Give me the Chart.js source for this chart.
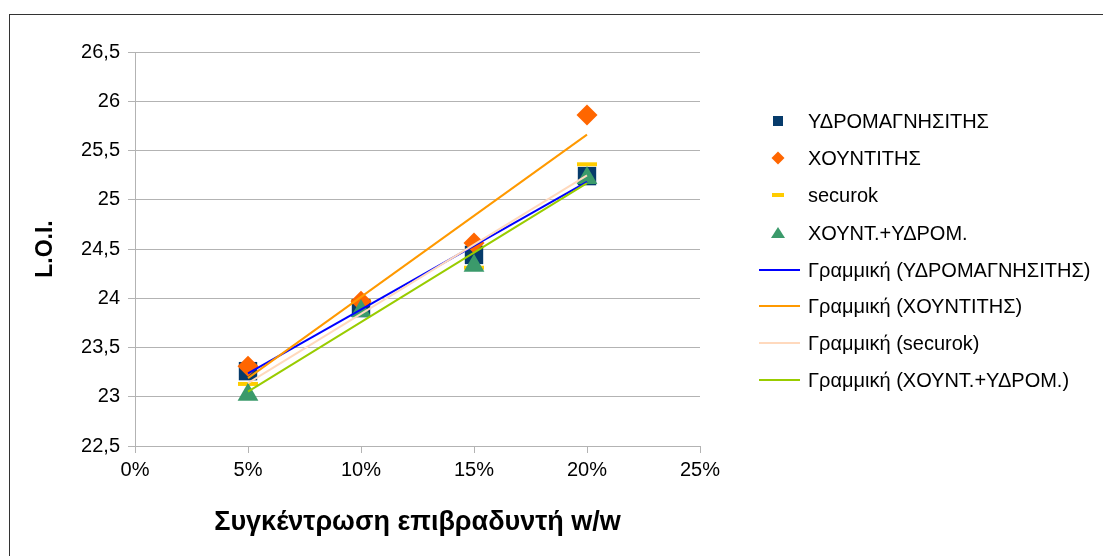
<!DOCTYPE html>
<html>
<head>
<meta charset="utf-8">
<script src="https://cdn.jsdelivr.net/npm/chart.js@4.4.1/dist/chart.umd.min.js"></script>
<style>
html,body{margin:0;padding:0;background:#fff;}
#wrap{position:relative;width:1103px;height:556px;overflow:hidden;background:#fff;}
#frame{position:absolute;left:9px;top:14px;width:1200px;height:700px;border-left:1px solid #333;border-top:1px solid #333;}
#c{position:absolute;left:0;top:0;}
.lg{position:absolute;left:0;top:0;width:1103px;height:556px;font-family:'Liberation Sans',Arial,sans-serif;font-size:20px;color:#000;pointer-events:none;}
.it{position:absolute;left:758px;height:30px;line-height:30px;white-space:nowrap;}
.mk{position:absolute;left:0;top:0;width:42px;height:30px;}
.tx{position:absolute;left:50px;top:0;}
</style>
</head>
<body>
<div id="wrap">
  <div id="frame"></div>
  <canvas id="c" width="1103" height="556"></canvas>
  <div class="lg" id="legend"></div>
</div>
<script>
// ---- data ----
const concentrations = [0.05, 0.10, 0.15, 0.20];
const seriesNames = ['ΥΔΡΟΜΑΓΝΗΣΙΤΗΣ', 'ΧΟΥΝΤΙΤΗΣ', 'securok', 'ΧΟΥΝΤ.+ΥΔΡΟΜ.'];
const hydromagnesite = [23.26, 23.90, 24.44, 25.24];
const huntite = [23.31, 23.97, 24.56, 25.86];
const securok = [23.13, 23.97, 24.31, 25.36];
const huntHydro = [23.02, 23.87, 24.33, 25.22];
const xTickLabels = ['0%', '5%', '10%', '15%', '20%', '25%'];
const yTickLabels = ['22,5', '23', '23,5', '24', '24,5', '25', '25,5', '26', '26,5'];
const xTitle = 'Συγκέντρωση επιβραδυντή w/w';
const yTitle = 'L.O.I.';
const trendPrefix = 'Γραμμική';

// ---- styling ----
const markerColors = ['#063b6b', '#ff6600', '#ffcc00', '#3b9a6b'];
const trendColors = ['#0000ff', '#ff9900', '#ffd9bd', '#99cc00'];
const FONT = "'Liberation Sans', Arial, sans-serif";

function pts(vals){ return concentrations.map((x,i)=>({x:x, y:vals[i]})); }
function trend(vals){
  const n = concentrations.length;
  const mx = concentrations.reduce((a,b)=>a+b,0)/n;
  const my = vals.reduce((a,b)=>a+b,0)/n;
  let sxy=0, sxx=0;
  for(let i=0;i<n;i++){ sxy+=(concentrations[i]-mx)*(vals[i]-my); sxx+=(concentrations[i]-mx)**2; }
  const b = sxy/sxx, a = my - b*mx;
  const x0 = concentrations[0], x1 = concentrations[n-1];
  return [{x:x0,y:a+b*x0},{x:x1,y:a+b*x1}];
}
const allSeries = [hydromagnesite, huntite, securok, huntHydro];

const datasets = [
  {label: seriesNames[0], data: pts(hydromagnesite), pointStyle:'rect', pointRadius:13, pointHoverRadius:13,
   backgroundColor: markerColors[0], borderWidth:0, showLine:false, order:7},
  {label: seriesNames[1], data: pts(huntite), pointStyle:'rectRot', pointRadius:10.5, pointHoverRadius:10.5,
   backgroundColor: markerColors[1], borderWidth:0, showLine:false, order:6},
  {label: seriesNames[2], data: pts(securok), pointStyle:'line', pointRadius:10, pointHoverRadius:10,
   borderColor: markerColors[2], backgroundColor: markerColors[2], borderWidth:4, pointBorderWidth:4, showLine:false, order:8},
  {label: seriesNames[3], data: pts(huntHydro), pointStyle:'triangle', pointRadius:12, pointHoverRadius:12,
   backgroundColor: markerColors[3], borderWidth:0, showLine:false, order:5},
];
allSeries.forEach((s,i)=>{
  datasets.push({label: trendPrefix+' ('+seriesNames[i]+')', data: trend(s), showLine:true, pointRadius:0,
    borderColor: trendColors[i], backgroundColor: trendColors[i], borderWidth:2, order: 4-i});
});

new Chart(document.getElementById('c'), {
  type:'scatter',
  data:{datasets},
  options:{
    responsive:false, animation:false, devicePixelRatio:1,
    layout:{padding:{left:0, top:52, right:403, bottom:10}},
    plugins:{legend:{display:false}, tooltip:{enabled:false}},
    scales:{
      x:{type:'linear', min:0, max:0.25,
        afterFit:(s)=>{ s.height = 100; },
        ticks:{stepSize:0.05, color:'#000', font:{family:FONT, size:20}, padding:5, maxRotation:0,
          callback:(v,i)=>xTickLabels[i]},
        grid:{drawOnChartArea:false, color:'#b3b3b3', tickLength:7},
        border:{color:'#b3b3b3'},
        title:{display:true, text:xTitle, color:'#000', font:{family:FONT, size:27, weight:'bold'}, padding:{top:0,bottom:7}}
      },
      y:{min:22.5, max:26.5,
        afterFit:(s)=>{ s.width = 135; },
        ticks:{stepSize:0.5, color:'#000', font:{family:FONT, size:20}, padding:8,
          callback:(v,i)=>yTickLabels[i]},
        grid:{color:'#b3b3b3', tickLength:7},
        border:{color:'#b3b3b3'},
        title:{display:true, text:yTitle, color:'#000', font:{family:FONT, size:23, weight:'bold'}, padding:{top:32,bottom:0}}
      }
    }
  }
});

// ---- legend ----
const rowY = [121, 158, 195, 233, 270, 306, 343, 380];
const lg = document.getElementById('legend');
const labels = seriesNames.concat(seriesNames.map(n=>trendPrefix+' ('+n+')'));
labels.forEach((t,i)=>{
  const it = document.createElement('div');
  it.className='it'; it.style.top=(rowY[i]-15)+'px';
  const mk = document.createElement('canvas'); mk.className='mk'; mk.width=42; mk.height=30;
  const g = mk.getContext('2d');
  const cx=20, cy=15;
  if(i===0){ g.fillStyle=markerColors[0]; g.fillRect(cx-5,cy-5,10,10); }
  else if(i===1){ g.fillStyle=markerColors[1]; g.beginPath(); g.moveTo(cx,cy-6.5); g.lineTo(cx+6.5,cy); g.lineTo(cx,cy+6.5); g.lineTo(cx-6.5,cy); g.closePath(); g.fill(); }
  else if(i===2){ g.fillStyle=markerColors[2]; g.fillRect(cx-6,cy-2,12,4); }
  else if(i===3){ g.fillStyle=markerColors[3]; g.beginPath(); g.moveTo(cx,cy-6); g.lineTo(cx+7,cy+5); g.lineTo(cx-7,cy+5); g.closePath(); g.fill(); }
  else { g.fillStyle=trendColors[i-4]; g.fillRect(1,cy-1,42,2); }
  const tx = document.createElement('span'); tx.className='tx'; tx.textContent=t;
  it.appendChild(mk); it.appendChild(tx); lg.appendChild(it);
});
</script>
</body>
</html>
